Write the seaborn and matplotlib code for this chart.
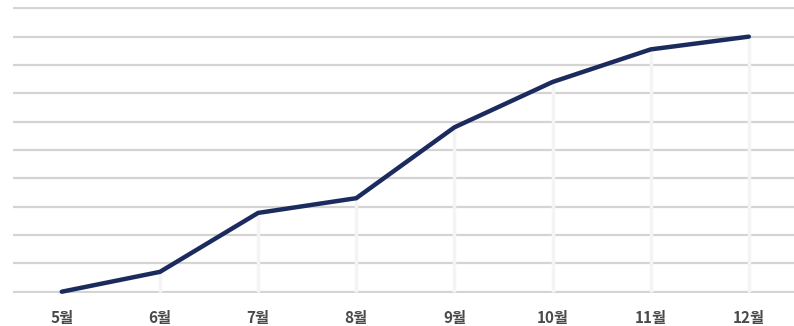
import matplotlib
matplotlib.use("Agg")
import matplotlib.pyplot as plt
import seaborn as sns
import pandas as pd

months = ["5월", "6월", "7월", "8월", "9월", "10월", "11월", "12월"]
values = [0.0, 0.7, 2.78, 3.3, 5.8, 7.4, 8.55, 9.0]

sns.set_theme(style="white")
plt.rcParams['font.family'] = ['Noto Sans CJK KR', 'DejaVu Sans']

df = pd.DataFrame({"month": months, "value": values})
df["x"] = range(len(months))

fig = plt.figure(figsize=(7.94, 3.26), dpi=100)
ax = fig.add_axes([0.016, 0.1012, 0.984, 0.8776])

# faint drop lines
ax.vlines(df["x"], 0, df["value"], color="#f4f4f4", linewidth=2.5, zorder=1)

sns.lineplot(data=df, x="x", y="value", ax=ax, color="#1c2b5e",
             linewidth=3.2, zorder=3, clip_on=False)

ax.set_ylim(-0.046, 10.049)
ax.set_xlim(-0.5, 7.46)
ax.set_yticks(range(0, 11))
ax.yaxis.grid(True, color="#d4d4d4", linewidth=1.6)
ax.set_axisbelow(True)
ax.set_yticklabels([])
ax.set_xticks(df["x"])
ax.set_xticklabels(months, fontsize=11, fontweight="bold", color="#4a4a4a")
ax.tick_params(axis="x", length=0, pad=12)
ax.tick_params(axis="y", length=0)
ax.set_xlabel("")
ax.set_ylabel("")
for s in ax.spines.values():
    s.set_visible(False)

fig.savefig("out.png", dpi=100)
